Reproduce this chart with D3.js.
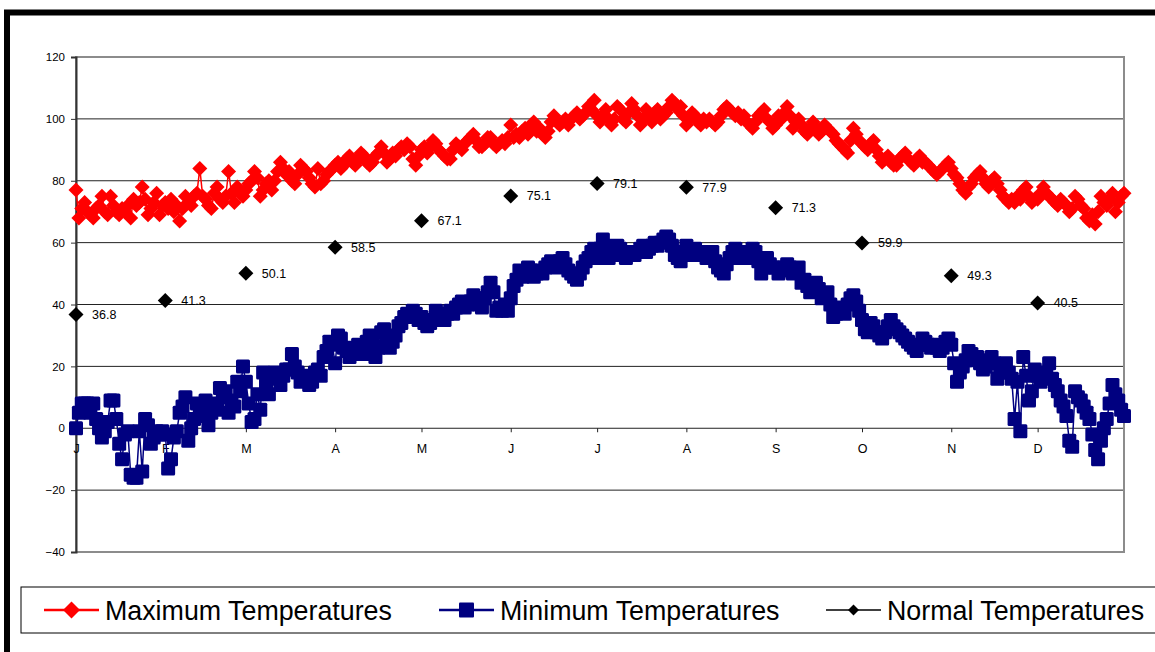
<!DOCTYPE html>
<html>
<head>
<meta charset="utf-8">
<script src="https://cdn.jsdelivr.net/npm/d3@7"></script>
<style>
  body { margin: 0; background: #fff; }
  svg { display: block; font-family: Arial, "Liberation Sans", sans-serif; }
</style>
</head>
<body>
<script>
// Daily maximum temperatures, by month
const maxJan = [77,68,71,73,70,69,68,71,72,75,70,69,75,72,70,69,71,70,72,68,74,72,73,78,74,69,71,73,76,69,72];
const maxFeb = [73,71,74,70,72,67,71,75,73,72,75,76,84,75,74,72,71,76,78,74,73,75,83,76,73,78,76,75];
const maxMar = [77,79,80,83,81,75,77,79,80,77,80,83,86,84,82,83,80,79,82,85,84,83,81,79,78,84,79,80,82,83,84];
const maxApr = [85,86,84,85,87,88,86,85,87,89,88,86,85,86,88,89,91,89,86,87,89,88,90,91,90,92,91,87,85,88];
const maxMay = [90,91,89,91,93,92,90,89,88,87,87,90,92,91,90,92,93,94,95,93,91,91,92,94,94,92,91,92,93,92,94];
const maxJun = [98,94,95,94,96,97,95,98,99,96,97,95,94,96,99,101,99,98,99,100,98,100,101,102,100,101,102,104,103,106];
const maxJul = [101,99,101,103,100,98,100,104,103,100,99,102,105,103,101,98,100,103,101,99,102,103,100,101,102,104,106,105,103,104,101];
const maxAug = [98,100,102,101,99,98,100,99,100,99,98,99,101,103,104,103,102,101,102,100,101,99,98,97,99,101,102,103,100,99,97];
const maxSep = [98,101,100,102,104,101,97,99,100,98,96,95,97,99,97,95,96,98,97,96,95,93,92,91,90,89,93,97,95,93];
const maxOct = [92,91,90,92,93,90,88,86,87,88,86,85,85,87,88,89,87,86,85,87,88,86,86,85,84,83,82,83,84,85,86];
const maxNov = [84,82,81,79,77,76,78,79,81,82,83,81,79,78,80,81,79,77,75,74,73,74,73,75,74,77,78,75,73,74];
const maxDec = [74,76,78,76,75,74,73,72,74,73,72,70,71,75,74,72,71,68,67,69,66,70,75,73,72,74,76,70,73,75,76];

// Daily minimum temperatures, by month
const minJan = [0,5,8,8,8,5,8,3,0,-3,-1,2,9,9,3,-5,-10,-2,-1,-15,-16,-16,-1,-14,3,1,-5,-3,-1,-2,-1];
const minFeb = [-2,-13,-10,-3,-1,5,7,10,-4,0,3,8,6,4,9,1,5,8,6,13,10,12,5,9,7,15,12,20];
const minMar = [15,8,2,3,11,6,18,14,11,17,18,16,14,17,19,19,24,20,18,15,17,16,14,15,18,19,17,23,25,28,27];
const minApr = [21,30,29,26,25,23,24,26,27,25,24,28,30,27,23,26,31,32,29,26,28,30,33,34,36,37,36,38,37,35];
const minMay = [36,34,33,34,35,38,37,36,35,37,38,37,39,40,41,39,40,41,43,42,40,39,42,44,47,44,38,39,38,40,38];
const minJun = [42,46,48,51,49,50,52,51,49,50,51,50,52,53,54,53,52,54,55,53,51,50,49,48,50,52,54,55,57,58];
const minJul = [55,58,61,59,55,56,58,59,58,56,55,56,57,56,57,58,59,57,58,59,60,59,60,61,62,61,59,56,55,54,57];
const minAug = [59,56,57,58,57,56,57,55,56,57,54,52,51,50,53,55,57,58,56,55,57,56,55,58,57,54,50,52,55,53,52];
const minSep = [52,50,51,52,53,52,50,51,52,47,48,46,44,45,47,45,42,43,44,40,36,37,39,38,37,40,42,43,41,38];
const minOct = [35,32,31,34,33,31,30,29,31,33,35,33,32,31,30,29,28,27,26,25,27,29,28,27,26,27,26,25,26,28,29];
const minNov = [27,21,15,18,20,22,25,24,22,23,21,19,20,22,23,21,16,18,20,21,18,16,3,15,-1,23,17,9,12,19];
const minDec = [17,15,18,17,21,16,14,12,9,7,4,-4,-6,12,10,9,7,5,3,-2,-7,-10,-4,0,3,8,14,11,9,6,4];

// Monthly normals, plotted on the first day of each month
const monthLabels = ['J','F','M','A','M','J','J','A','S','O','N','D'];
const monthStarts = [0,31,59,90,120,151,181,212,243,273,304,334];
const normals = [36.8,41.3,50.1,58.5,67.1,75.1,79.1,77.9,71.3,59.9,49.3,40.5];

const yTicks = [-40,-20,0,20,40,60,80,100,120];

const maxTemps = [].concat(maxJan, maxFeb, maxMar, maxApr, maxMay, maxJun, maxJul, maxAug, maxSep, maxOct, maxNov, maxDec);
const minTemps = [].concat(minJan, minFeb, minMar, minApr, minMay, minJun, minJul, minAug, minSep, minOct, minNov, minDec);

const width = 1155;
const height = 652;

const svg = d3.select('body')
  .append('svg')
  .attr('width', width)
  .attr('height', height);

// outer black frame (runs off the right and bottom edges)
svg.append('rect')
  .attr('x', 7).attr('y', 12.5)
  .attr('width', 1200).attr('height', 700)
  .attr('fill', 'none')
  .attr('stroke', '#000')
  .attr('stroke-width', 6);

const x = d3.scaleLinear().domain([0, 364]).range([76, 1124]);
const y = d3.scaleLinear().domain([-40, 120]).range([552, 57]);

// gridlines
svg.append('g')
  .selectAll('line')
  .data(yTicks.slice(1, -1))
  .join('line')
  .attr('x1', x(0)).attr('x2', x(364))
  .attr('y1', d => y(d)).attr('y2', d => y(d))
  .attr('stroke', '#222')
  .attr('stroke-width', 1);

// plot area border
svg.append('rect')
  .attr('x', x(0)).attr('y', y(120))
  .attr('width', x(364) - x(0)).attr('height', y(-40) - y(120))
  .attr('fill', 'none')
  .attr('stroke', '#8c8c8c')
  .attr('stroke-width', 2);

// y axis
const yAxis = svg.append('g')
  .attr('transform', `translate(${x(0)},0)`)
  .call(d3.axisLeft(y).tickValues(yTicks).tickSize(5).tickPadding(6));
yAxis.select('.domain').attr('stroke', '#333').attr('stroke-width', 2);
yAxis.selectAll('.tick line').attr('stroke', '#333');
yAxis.selectAll('text').attr('font-size', 11.5).attr('font-family', 'Arial, "Liberation Sans", sans-serif').attr('fill', '#000');

// month axis crossing at zero
const xAxis = svg.append('g')
  .attr('transform', `translate(0,${y(0)})`)
  .call(d3.axisBottom(x).tickValues(monthStarts).tickFormat((d, i) => monthLabels[i]).tickSize(4).tickPadding(12));
xAxis.select('.domain').remove();
xAxis.selectAll('.tick line').attr('stroke', '#222');
xAxis.selectAll('text').attr('font-size', 12.5).attr('font-family', 'Arial, "Liberation Sans", sans-serif').attr('fill', '#000');

const line = d3.line().x((d, i) => x(i)).y(d => y(d));
const diamond = r => `M0,${-r}L${r},0L0,${r}L${-r},0Z`;

// max series
svg.append('path')
  .datum(maxTemps)
  .attr('d', line)
  .attr('fill', 'none')
  .attr('stroke', '#ff0000')
  .attr('stroke-width', 1.5);
svg.append('g')
  .selectAll('path')
  .data(maxTemps)
  .join('path')
  .attr('d', diamond(7.5))
  .attr('transform', (d, i) => `translate(${x(i)},${y(d)})`)
  .attr('fill', '#ff0000');

// min series
svg.append('path')
  .datum(minTemps)
  .attr('d', line)
  .attr('fill', 'none')
  .attr('stroke', '#000080')
  .attr('stroke-width', 1.5);
svg.append('g')
  .selectAll('rect')
  .data(minTemps)
  .join('rect')
  .attr('x', (d, i) => x(i) - 7)
  .attr('y', d => y(d) - 7)
  .attr('width', 14).attr('height', 14)
  .attr('rx', 1.5)
  .attr('fill', '#000080');

// normals
const normalG = svg.append('g');
normalG.selectAll('path')
  .data(normals)
  .join('path')
  .attr('d', diamond(7.5))
  .attr('transform', (d, i) => `translate(${x(monthStarts[i])},${y(d)})`)
  .attr('fill', '#000');
normalG.selectAll('text')
  .data(normals)
  .join('text')
  .attr('x', (d, i) => x(monthStarts[i]) + 16)
  .attr('y', d => y(d) + 4.5)
  .attr('font-size', 12.5)
  .attr('fill', '#000')
  .text(d => d3.format('.1f')(d));

// legend
const legend = svg.append('g');
legend.append('rect')
  .attr('x', 21).attr('y', 587)
  .attr('width', 1200).attr('height', 46)
  .attr('fill', '#fff')
  .attr('stroke', '#000')
  .attr('stroke-width', 1);

const legendItems = [
  { label: 'Maximum Temperatures', x: 44, color: '#ff0000', mark: 'diamond', size: 8.5, lw: 2.5 },
  { label: 'Minimum Temperatures', x: 439, color: '#000080', mark: 'square', size: 7.5, lw: 2.5 },
  { label: 'Normal Temperatures', x: 826, color: '#000', mark: 'diamond', size: 5.5, lw: 1.5 }
];
const ly = 610;
legendItems.forEach(it => {
  legend.append('line')
    .attr('x1', it.x).attr('x2', it.x + 55)
    .attr('y1', ly).attr('y2', ly)
    .attr('stroke', it.color).attr('stroke-width', it.lw);
  if (it.mark === 'diamond') {
    legend.append('path')
      .attr('d', diamond(it.size))
      .attr('transform', `translate(${it.x + 27.5},${ly})`)
      .attr('fill', it.color);
  } else {
    legend.append('rect')
      .attr('x', it.x + 27.5 - it.size).attr('y', ly - it.size)
      .attr('width', it.size * 2).attr('height', it.size * 2)
      .attr('rx', 1)
      .attr('fill', it.color);
  }
  legend.append('text')
    .attr('x', it.x + 61).attr('y', ly + 9.5)
    .attr('font-size', 26.8)
    .attr('fill', '#000')
    .text(it.label);
});
</script>
</body>
</html>
